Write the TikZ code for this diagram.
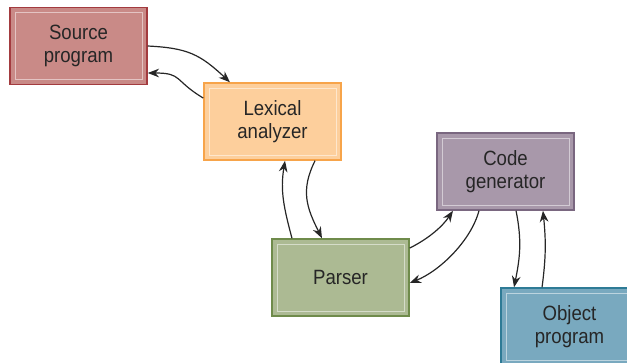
\documentclass[tikz,border=0pt]{standalone}
\usepackage{fontspec}
\setsansfont{Liberation Sans}[FakeStretch=0.9]
\usepackage{xcolor}
\definecolor{SrcFill}{HTML}{C98A87}
\definecolor{SrcLine}{HTML}{A33B3F}
\definecolor{LexFill}{HTML}{FDCF9C}
\definecolor{LexLine}{HTML}{F7A44A}
\definecolor{ParFill}{HTML}{ACBA93}
\definecolor{ParLine}{HTML}{6F8B4B}
\definecolor{GenFill}{HTML}{A898AA}
\definecolor{GenLine}{HTML}{7A6780}
\definecolor{ObjFill}{HTML}{79A9BF}
\definecolor{ObjLine}{HTML}{2E7B96}
\definecolor{InkGray}{HTML}{262626}
\usepackage{tikz}
\usetikzlibrary{arrows.meta}

\begin{document}
\begin{tikzpicture}[x=0.75pt,y=-0.75pt,font=\sffamily\fontsize{15.5}{17}\selectfont]
\tikzset{
  stagebox/.style={draw,line width=1.1pt,minimum width=102.75pt,minimum height=57.75pt,
    align=center,text=InkGray,inner sep=0pt,
    path picture={\draw[white,opacity=.5,line width=.75pt]
      ([shift={(5,5)}]path picture bounding box.north west) rectangle
      ([shift={(-5,-5)}]path picture bounding box.south east);}},
  flow/.style={InkGray,line width=.9pt,-{Stealth[length=8.5pt,width=6.5pt]}}
}
\useasboundingbox (0,0) rectangle (627,362);

% compiler stages, staggered down to the right
\node[stagebox,fill=SrcFill,draw=SrcLine] (src) at (78.5,46) {Source\\program};
\node[stagebox,fill=LexFill,draw=LexLine] (lex) at (272.5,121.5) {Lexical\\analyzer};
\node[stagebox,fill=ParFill,draw=ParLine] (par) at (340.5,277.5) {Parser};
\node[stagebox,fill=GenFill,draw=GenLine] (gen) at (505.5,171.5) {Code\\generator};
\node[stagebox,fill=ObjFill,draw=ObjLine] (obj) at (569.5,326.5) {Object\\program};

% two-way traffic between neighbouring stages
\draw[flow] (src.east) .. controls +(40,2) and +(-30,-28) .. ([xshift=-31.9pt]lex.north);
\draw[flow] ([yshift=17.6pt]lex.west) .. controls +(-30,-18) and +(35,0) .. ([yshift=-20.25pt]src.east);
\draw[flow] ([xshift=31.9pt]lex.south) .. controls +(-15,30) and +(-15,-30) .. ([xshift=-13.9pt]par.north);
\draw[flow] ([xshift=-36.4pt]par.north) .. controls +(-8,-30) and +(-5,30) .. ([xshift=9.4pt]lex.south);
\draw[flow] ([yshift=22.1pt]par.east) .. controls +(20,-10) and +(-10,15) .. ([xshift=-39.4pt]gen.south);
\draw[flow] ([xshift=-19.9pt]gen.south) .. controls +(-8,30) and +(30,-12) .. ([yshift=-4.1pt]par.east);
\draw[flow] ([xshift=7.9pt]gen.south) .. controls +(6,30) and +(6,-30) .. ([xshift=-41.6pt]obj.north);
\draw[flow] ([xshift=-20.6pt]obj.north) .. controls +(4,-30) and +(3,30) .. ([xshift=28.1pt]gen.south);
\end{tikzpicture}
\end{document}
